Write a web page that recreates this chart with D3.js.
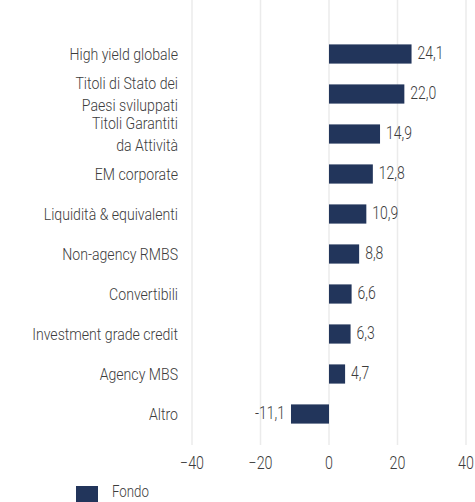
<!DOCTYPE html>
<html><head><meta charset="utf-8">
<script src="https://cdn.jsdelivr.net/npm/d3@7"></script>
<style>
html,body{margin:0;padding:0;background:#fff;}
svg text{font-family:Roboto,"Liberation Sans",sans-serif;font-weight:300;fill:#3c3c3c;}
</style></head>
<body><svg id="c" width="475" height="502"></svg>
<script>
const categories = [["High yield globale"],["Titoli di Stato dei","Paesi sviluppati"],["Titoli Garantiti","da Attività"],["EM corporate"],["Liquidità & equivalenti"],["Non-agency RMBS"],["Convertibili"],["Investment grade credit"],["Agency MBS"],["Altro"]];
const values = [24.1,22.0,14.9,12.8,10.9,8.8,6.6,6.3,4.7,-11.1];
const xTicks = [-40,-20,0,20,40];
const seriesName = "Fondo";

const svg = d3.select("#c");
const x = d3.scaleLinear().domain([-40,40]).range([192,466]);
const y = d3.scaleBand().domain(d3.range(values.length)).range([34,434]).paddingInner(0.52).paddingOuter(0.26);
const color = "#22355b";

// measure natural width to pick a horizontal condensing factor
function fitScale(sample, size, target){
  const t = svg.append("text").attr("font-size", size).text(sample);
  const w = t.node().getComputedTextLength();
  t.remove();
  return target / w;
}
const SX_LAB = fitScale("Investment grade credit", 17, 146);
const SX_VAL = fitScale("24,1", 18.5, 26);
const SX_TICK = fitScale("\u221220", 17.5, 24);
const SX_LEG = fitScale("Fondo", 16.5, 37);

function addText(g, px, py, str, anchor, size, sx){
  return g.append("text")
    .attr("transform", `translate(${px},${py}) scale(${sx},1)`)
    .attr("text-anchor", anchor).attr("dy","0.35em")
    .attr("font-size", size).text(str);
}

// grid
svg.append("g").selectAll("line").data(xTicks).join("line")
  .attr("x1",d=>x(d)).attr("x2",d=>x(d)).attr("y1",0).attr("y2",445)
  .attr("stroke","#ebebeb").attr("stroke-width",1.5);

// x axis labels
const fmtTick = d => (d<0?"\u2212":"") + Math.abs(d);
const ag = svg.append("g");
xTicks.forEach(d=>addText(ag, x(d), 463, fmtTick(d), "middle", 17.5, SX_TICK));

// bars
const yc = i => y(i)+y.bandwidth()/2;
svg.append("g").selectAll("rect").data(values).join("rect")
  .attr("x",d=>x(Math.min(0,d))).attr("width",d=>Math.abs(x(d)-x(0)))
  .attr("y",(d,i)=>y(i)).attr("height",y.bandwidth()).attr("fill",color);

// value labels
const fmtVal = d => d.toFixed(1).replace(".",",");
const vg = svg.append("g");
values.forEach((d,i)=>addText(vg, d>=0? x(d)+6 : x(d)-6, yc(i)-1, fmtVal(d), d>=0?"start":"end", 18.5, SX_VAL));

// category labels
const cg = svg.append("g");
categories.forEach((lines,i)=>{
  const n = lines.length, lh = 22;
  lines.forEach((s,k)=>addText(cg, 178, yc(i) + (k-(n-1)/2)*lh, s, "end", 17, SX_LAB));
});

// legend
svg.append("rect").attr("x",76).attr("y",486).attr("width",22).attr("height",22).attr("fill",color);
addText(svg, 112, 491, seriesName, "start", 16.5, SX_LEG);
</script></body></html>
